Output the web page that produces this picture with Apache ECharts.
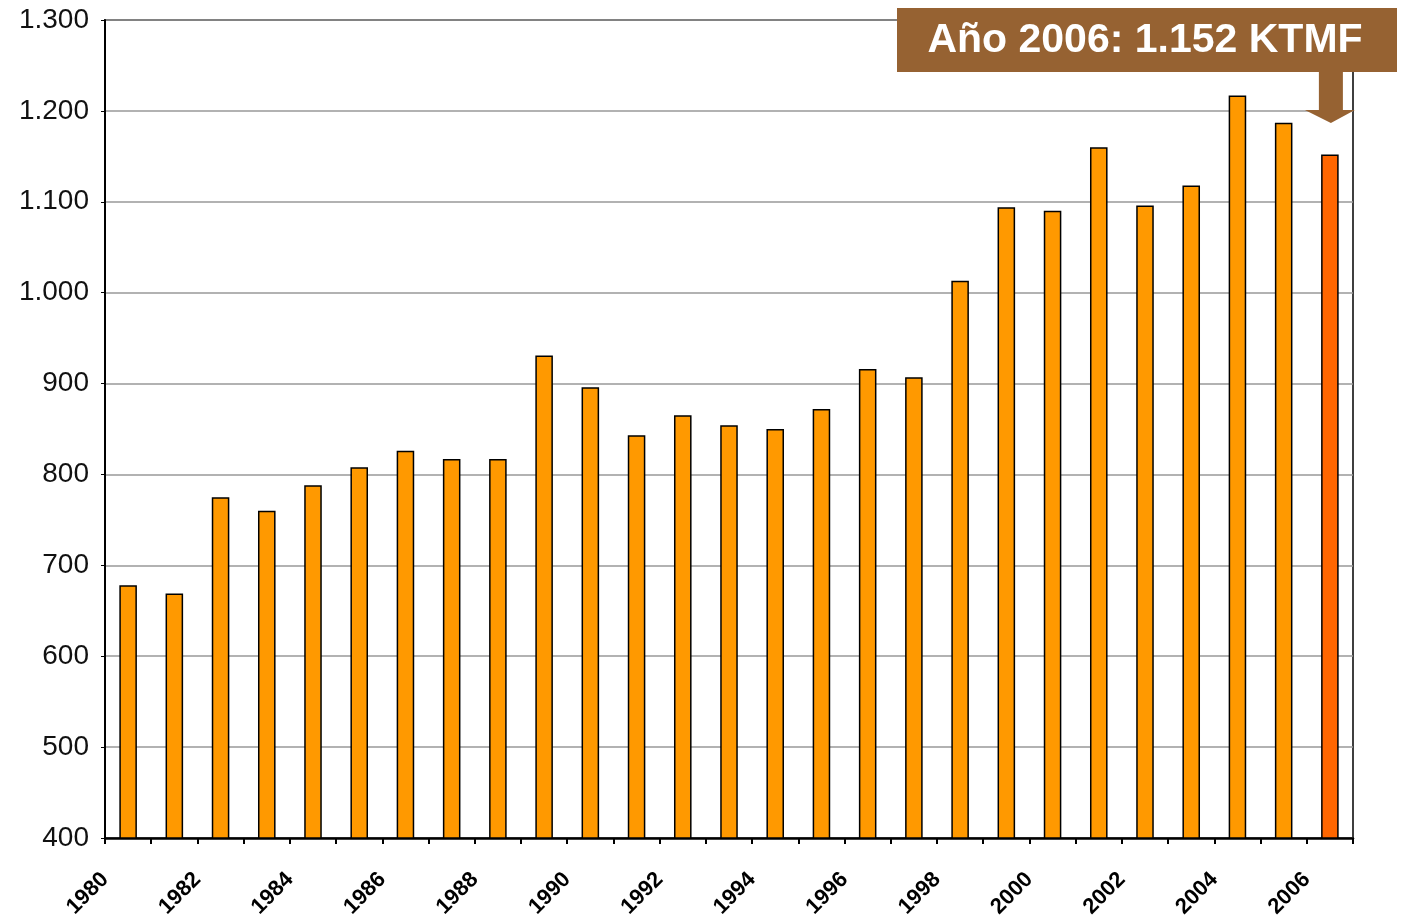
<!DOCTYPE html>
<html>
<head>
<meta charset="utf-8">
<script src="https://cdn.jsdelivr.net/npm/echarts@6/dist/echarts.min.js"></script>
<style>
  html, body { margin: 0; padding: 0; background: #fff; }
  #main { width: 1403px; height: 917px; }
</style>
</head>
<body>
<div id="main"></div>
<script>
// años y consumo (KTMF)
const years = ['1980','1981','1982','1983','1984','1985','1986','1987','1988','1989',
  '1990','1991','1992','1993','1994','1995','1996','1997','1998','1999',
  '2000','2001','2002','2003','2004','2005','2006'];
const values = [678, 669, 775, 760, 788, 808, 826, 817, 817, 931,
  896, 843, 865, 854, 850, 872, 916, 907, 1013, 1094,
  1090, 1160, 1096, 1118, 1217, 1187, 1152];
// etiquetas en los bordes de categoria
const tickYears = years.concat(['2007']);
const yTicks = { min: 400, max: 1300, interval: 100 };
const note = 'Año 2006: 1.152 KTMF';

const fmt = v => v >= 1000 ? Math.floor(v / 1000) + '.' + String(v % 1000).padStart(3, '0') : String(v);

let myChart = echarts.init(document.getElementById('main'));

myChart.setOption({
  animation: false,
  grid: {
    left: 105, right: 50, top: 20, bottom: 79,
    outerBoundsMode: 'none',
    show: true, borderColor: '#000', borderWidth: 1.5
  },
  xAxis: [{
    type: 'category',
    data: years,
    axisLine: { lineStyle: { color: '#000', width: 2.5 } },
    axisTick: { show: true, length: 6, lineStyle: { color: '#000', width: 2 } },
    axisLabel: { show: false }
  }, {
    type: 'category',
    data: tickYears,
    boundaryGap: false,
    position: 'bottom',
    axisLine: { show: false },
    axisTick: { show: false },
    axisLabel: {
      interval: 1,
      rotate: 45,
      margin: 38,
      color: '#000',
      fontFamily: 'Liberation Sans Narrow, Liberation Sans, Arial',
      fontWeight: 'bold',
      fontSize: 22
    }
  }],
  yAxis: {
    type: 'value',
    min: yTicks.min,
    max: yTicks.max,
    interval: yTicks.interval,
    axisLine: { show: true, lineStyle: { color: '#000', width: 2 } },
    axisTick: { show: true, length: 4, lineStyle: { color: '#000' } },
    splitLine: { lineStyle: { color: '#999', width: 1.5 } },
    axisLabel: {
      formatter: fmt,
      color: '#111',
      fontFamily: 'Liberation Sans, Arial',
      fontSize: 28,
      margin: 16
    }
  },
  series: [{
    type: 'bar',
    data: values.map((v, i) => i === values.length - 1
      ? { value: v, itemStyle: { color: '#FF6600' } }
      : v),
    barWidth: '38%',
    itemStyle: { color: '#FF9900', borderColor: '#000', borderWidth: 1.5 }
  }]
});

// recuadro con flecha hacia la ultima barra
const last = myChart.convertToPixel({ xAxisIndex: 0, yAxisIndex: 0 }, [years.length - 1, values[values.length - 1]]);
const cx = last[0];
myChart.setOption({
  graphic: [{
    type: 'rect',
    shape: { x: 897, y: 8, width: 500, height: 64 },
    style: { fill: '#966232' },
    z: 100
  }, {
    type: 'text',
    x: 1145, y: 41,
    style: {
      text: note,
      fill: '#fff',
      font: 'bold 41px Liberation Sans, Arial',
      align: 'center',
      verticalAlign: 'middle'
    },
    z: 101
  }, {
    type: 'polygon',
    shape: {
      points: [
        [cx - 11, 72], [cx + 13, 72], [cx + 13, 110], [cx + 25, 110],
        [cx + 1, 123], [cx - 25, 110], [cx - 11, 110]
      ]
    },
    style: { fill: '#966232' },
    z: 100
  }]
});

window.onresize = function () {
  myChart.resize();
};
</script>
</body>
</html>
